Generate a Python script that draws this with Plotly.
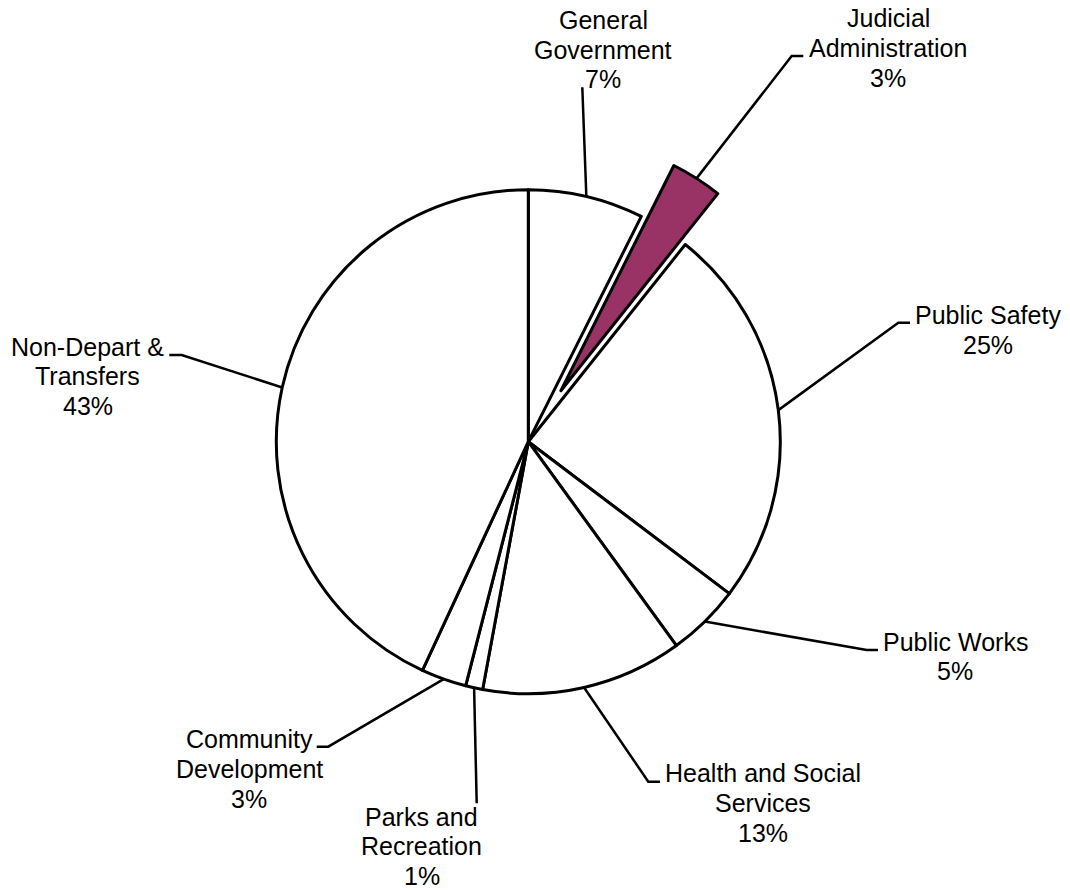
import math
import plotly.graph_objects as go

# ---------------- data ----------------
categories = [
    "General Government",
    "Judicial Administration",
    "Public Safety",
    "Public Works",
    "Health and Social Services",
    "Parks and Recreation",
    "Community Development",
    "Non-Depart & Transfers",
]
values = [7.4, 3.3, 24.6, 4.7, 12.9, 1.1, 2.9, 43.1]
label_lines = [
    ["General", "Government"],
    ["Judicial", "Administration"],
    ["Public Safety"],
    ["Public Works"],
    ["Health and Social", "Services"],
    ["Parks and", "Recreation"],
    ["Community", "Development"],
    ["Non-Depart &", "Transfers"],
]
pulls = [0, 0.24, 0, 0, 0, 0, 0, 0]
colors = ["white", "#993366", "white", "white", "white", "white", "white", "white"]

# ---------------- layout constants (pixels) ----------------
W, H = 1070, 890
CX, CY, R = 528.3, 441.7, 252.0
FONT = dict(family="Liberation Sans, Arial, sans-serif", size=25, color="black")
LINE_H = 29.6

# label placement: elbow point, end of short horizontal tick (or None),
# label centre x, centre y of first text line
label_layout = {
    "General Government": ((582.3, 87.3), None, 603.0, 20.0),
    "Judicial Administration": ((791.7, 56.0), (803.3, 56.0), 888.3, 18.3),
    "Public Safety": ((898.3, 322.7), (910.0, 322.7), 987.5, 315.0),
    "Public Works": ((866.7, 650.0), (878.0, 650.0), 955.0, 641.7),
    "Health and Social Services": ((648.3, 781.7), (660.0, 781.7), 762.5, 773.3),
    "Parks and Recreation": ((476.7, 803.3), None, 421.7, 816.5),
    "Community Development": ((328.3, 746.7), (316.7, 746.7), 249.0, 739.3),
    "Non-Depart & Transfers": ((181.7, 355.0), (169.3, 355.0), 87.5, 346.7),
}


def px(x):
    return x / W


def py(y):
    return 1 - y / H


maxpull = max(pulls)
box = 2 * R * (1 + maxpull)
domain_x = [(CX - box / 2) / W, (CX + box / 2) / W]
domain_y = [1 - (CY + box / 2) / H, 1 - (CY - box / 2) / H]

fig = go.Figure(
    go.Pie(
        labels=categories,
        values=values,
        sort=False,
        direction="clockwise",
        rotation=0,
        pull=pulls,
        marker=dict(colors=colors, line=dict(color="black", width=3)),
        textinfo="none",
        hoverinfo="label+percent",
        showlegend=False,
        domain=dict(x=domain_x, y=domain_y),
    )
)

total = sum(values)
shapes = []
annotations = []
cum = 0.0
for cat, v, lines, pull in zip(categories, values, label_lines, pulls):
    mid = (cum + v / 2) / total * 2 * math.pi
    cum += v
    dist = R * (1 + pull)
    sx = CX + dist * math.sin(mid)
    sy = CY - dist * math.cos(mid)
    elbow, hend, lcx, ly0 = label_layout[cat]
    path = f"M {px(sx)} {py(sy)} L {px(elbow[0])} {py(elbow[1])}"
    if hend is not None:
        path += f" L {px(hend[0])} {py(hend[1])}"
    shapes.append(
        dict(type="path", xref="paper", yref="paper", path=path,
             line=dict(color="black", width=2.5))
    )
    pct = f"{round(v / total * 100)}%"
    for k, t in enumerate(lines + [pct]):
        annotations.append(
            dict(
                text=t, xref="paper", yref="paper",
                x=px(lcx), y=py(ly0 + k * LINE_H),
                xanchor="center", yanchor="middle",
                showarrow=False, font=FONT,
            )
        )

fig.update_layout(
    width=W,
    height=H,
    margin=dict(l=0, r=0, t=0, b=0),
    paper_bgcolor="white",
    plot_bgcolor="white",
    showlegend=False,
    shapes=shapes,
    annotations=annotations,
)

fig.write_html("out.html")
